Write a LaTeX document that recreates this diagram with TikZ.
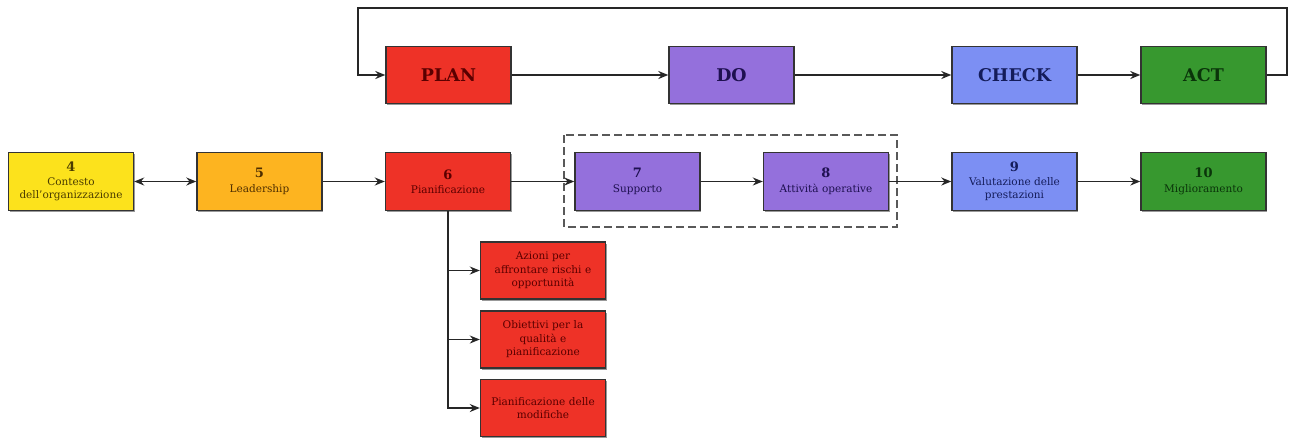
\documentclass[tikz,border=0pt]{standalone}
\usepackage{fontspec}
\setmainfont{DejaVu Serif}
\usetikzlibrary{arrows.meta,shadows}

\definecolor{cYel}{HTML}{FCE21C}
\definecolor{cOra}{HTML}{FDB420}
\definecolor{cRed}{HTML}{EE3227}
\definecolor{cPur}{HTML}{9470DC}
\definecolor{cBlu}{HTML}{7C8FF3}
\definecolor{cGre}{HTML}{37982F}
\definecolor{tYel}{HTML}{4A3C00}
\definecolor{tOra}{HTML}{4E2E00}
\definecolor{tRed}{HTML}{5A0000}
\definecolor{tPur}{HTML}{1E1050}
\definecolor{tBlu}{HTML}{141C5A}
\definecolor{tGre}{HTML}{0A340A}
\definecolor{edge}{HTML}{333333}

\tikzset{
  box/.style={draw=edge, line width=1.4pt, minimum width=125pt, minimum height=58pt,
    align=center, inner sep=2pt,
    font=\fontsize{10.5}{13}\selectfont,
    drop shadow={shadow xshift=1.2pt, shadow yshift=-1.8pt, fill=black, opacity=0.4}},
  phase/.style={box, font=\fontsize{17.5}{19}\selectfont\bfseries, minimum height=57pt},
  sub/.style={box, minimum height=57pt, text width=118pt, fill=cRed, text=tRed,
    font=\fontsize{10.5}{13.5}\selectfont},
  arr/.style={-{Stealth[length=10pt,width=8pt]}, line width=1.5pt, draw=black!85},
  dbl/.style={{Stealth[length=10pt,width=8pt]}-{Stealth[length=10pt,width=8pt]}, line width=1.5pt, draw=black!85}
}
% clause number set above the clause title
\newcommand{\nm}[1]{{\fontsize{13}{13}\selectfont\bfseries #1}\\[1.5pt]}

\begin{document}
\begin{tikzpicture}[x=1pt,y=-1pt]
\useasboundingbox (0,0) rectangle (1291,440);

% PDCA cycle
\node[phase, fill=cRed, text=tRed] (plan)  at (448.5,75) {PLAN};
\node[phase, fill=cPur, text=tPur] (do)    at (731.5,75) {DO};
\node[phase, fill=cBlu, text=tBlu] (check) at (1014.5,75) {CHECK};
\node[phase, fill=cGre, text=tGre] (act)   at (1203.5,75) {ACT};

\coordinate (loopR) at (1287,8);
\coordinate (loopL) at (358,8);

\draw[arr] (plan) -- (do);
\draw[arr] (do) -- (check);
\draw[arr] (check) -- (act);
\draw[arr] (act.east) -| (loopR) -- (loopL) |- (plan.west);

% grouping of clauses 7 and 8
\draw[line width=1.5pt, draw=black!65, dash pattern=on 8pt off 4pt] (564,135) rectangle (897,227);

% ISO clauses
\node[box, fill=cYel, text=tYel] (c4)  at (71,181.5)    {\nm{4}Contesto\\dell'organizzazione};
\node[box, fill=cOra, text=tOra] (c5)  at (259.5,181.5) {\nm{5}Leadership};
\node[box, fill=cRed, text=tRed] (c6)  at (448,181.5)   {\nm{6}Pianificazione};
\node[box, fill=cPur, text=tPur] (c7)  at (637.5,181.5) {\nm{7}Supporto};
\node[box, fill=cPur, text=tPur] (c8)  at (826,181.5)   {\nm{8}Attività operative};
\node[box, fill=cBlu, text=tBlu] (c9)  at (1014.5,181.5){\nm{9}Valutazione delle\\prestazioni};
\node[box, fill=cGre, text=tGre] (c10) at (1203.5,181.5){\nm{10}Miglioramento};

\draw[dbl] (c4) -- (c5);
\draw[arr] (c5) -- (c6);
\draw[arr] (c6) -- (c7);
\draw[arr] (c7) -- (c8);
\draw[arr] (c8) -- (c9);
\draw[arr] (c9) -- (c10);

% sub-clauses of Pianificazione
\node[sub] (s1) at (543,270.5) {Azioni per\\affrontare rischi e\\opportunità};
\node[sub] (s2) at (543,339.5) {Obiettivi per la\\qualità e\\pianificazione};
\node[sub] (s3) at (543,408)   {Pianificazione delle\\modifiche};

\draw[arr] (c6.south) |- (s3.west);
\draw[arr] (c6.south |- s1.west) -- (s1.west);
\draw[arr] (c6.south |- s2.west) -- (s2.west);
\end{tikzpicture}
\end{document}
